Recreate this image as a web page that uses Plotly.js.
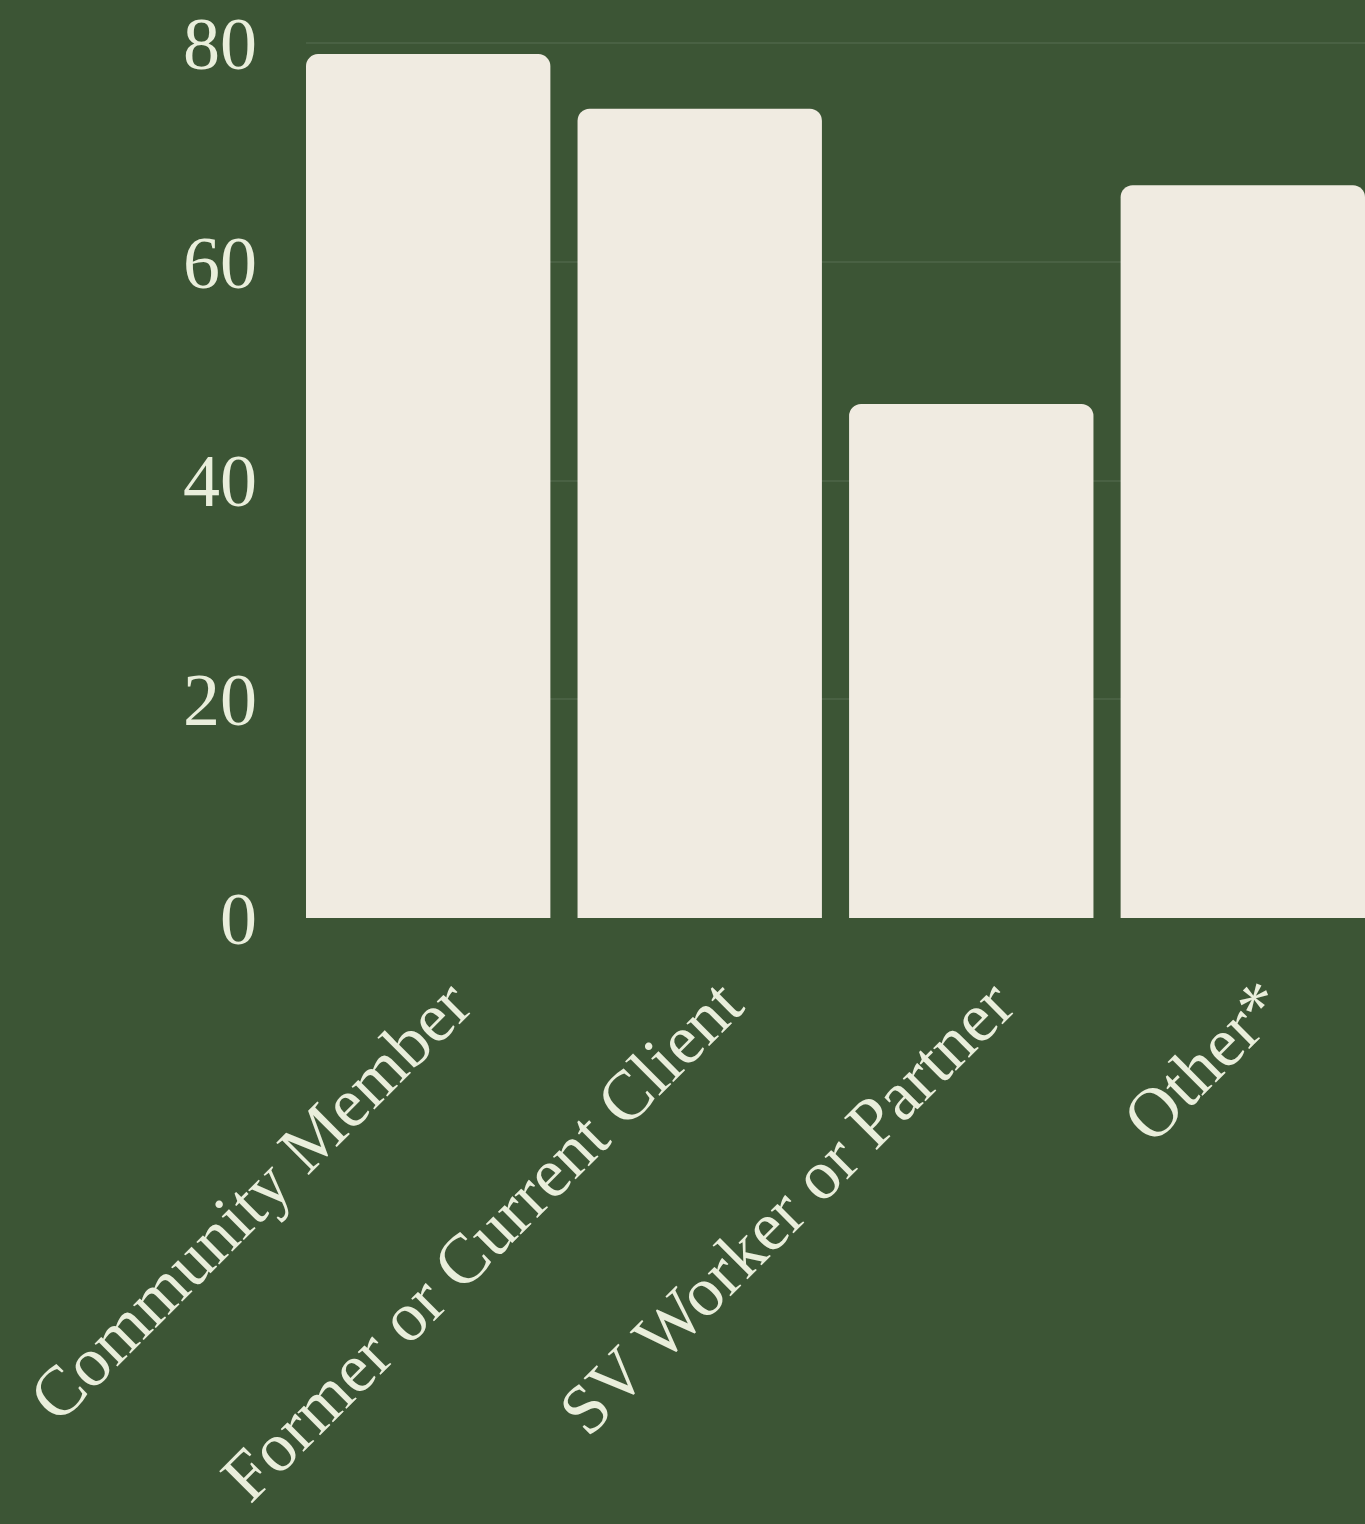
<!DOCTYPE html>
<html>
<head>
<meta charset="utf-8">
<script src="https://cdn.plot.ly/plotly-3.0.1.min.js"></script>
<style>
html,body{margin:0;padding:0;background:#3c5535;}
#chart{width:1365px;height:1524px;}
</style>
</head>
<body>
<div id="chart"></div>
<script>
const categories = ["Community Member", "Former or Current Client", "SV Worker or Partner", "Other*"];
const values = [79, 74, 47, 67];
const yTicks = [0, 20, 40, 60, 80];

const bg = '#3c5535';
const barColor = '#f0ebe1';
const textColor = '#e9eedb';
const fontFamily = '"Liberation Serif", "DejaVu Serif", serif';

const trace = {
  type: 'bar',
  x: categories,
  y: values,
  marker: {color: barColor, cornerradius: 12, line: {width: 0}},
  hoverinfo: 'none'
};

const layout = {
  width: 1365,
  height: 1524,
  paper_bgcolor: bg,
  plot_bgcolor: bg,
  margin: {l: 306, r: 0, t: 41, b: 606, pad: 0},
  bargap: 0.1,
  showlegend: false,
  font: {family: fontFamily, color: textColor, size: 72},
  xaxis: {
    type: 'category',
    range: [-0.45, 3.45],
    tickangle: -45,
    showgrid: false,
    zeroline: false,
    showline: false,
    ticks: '',
    ticklabelstandoff: 30,
    ticklabelshift: 22,
    tickfont: {family: fontFamily, color: textColor, size: 70},
    fixedrange: true
  },
  yaxis: {
    range: [0, 80.2],
    tickvals: yTicks,
    ticktext: yTicks.map(String),
    showgrid: true,
    gridcolor: 'rgba(255,255,255,0.07)',
    gridwidth: 2,
    zeroline: false,
    showline: false,
    ticks: '',
    ticklabelstandoff: 48,
    tickfont: {family: fontFamily, color: textColor, size: 74},
    fixedrange: true
  }
};

Plotly.newPlot('chart', [trace], layout, {displayModeBar: false, staticPlot: true});
</script>
</body>
</html>
